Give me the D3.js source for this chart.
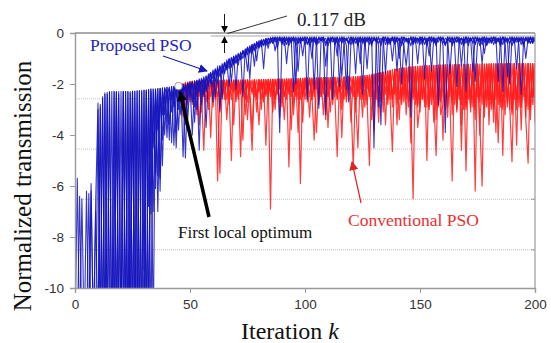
<!DOCTYPE html>
<html><head><meta charset="utf-8">
<script src="https://cdn.jsdelivr.net/npm/d3@7"></script>
<style>body{margin:0;background:#fff}</style>
</head><body><svg id="c" width="551" height="343"></svg>
<script>
// ---------- data ----------
const xTicks=[0,50,100,150,200];
const yTicks=[0,-2,-4,-6,-8,-10];
const gridVals=[-2.58,-4.55,-6.52,-8.5];
const blueStart=0, redStart=46;
// Proposed PSO particles (k = 0..200)
const blue1=[-12,-5.7,-12,-12,-12,-12,-6.3,-12,-12,-12,
-3.0,-12,-2.5,-12,-2.4,-9.5,-12,-2.3,-12,-2.4,
-12,-2.3,-11,-12,-2.35,-12,-2.3,-8.5,-12,-2.3,
-12,-2.3,-6.8,-2.3,-4.5,-2.25,-3.8,-2.2,-3.2,-2.2,
-3.5,-2.15,-2.6,-2.12,-3.9,-2.1,-2.5,-2.05,-2.3,-2.0,
-2.3,-1.95,-2.6,-1.9,-2.1,-1.82,-2.4,-1.7,-2.0,-1.6,
-1.8,-1.45,-1.7,-1.35,-1.55,-1.2,-1.45,-1.05,-1.3,-0.95,
-1.2,-0.85,-1.05,-0.72,-0.95,-0.6,-0.8,-0.48,-0.7,-0.38,
-0.6,-0.3,-0.5,-0.25,-0.45,-0.2,-0.4,-0.18,-0.35,-0.15,
-0.4,-0.15,-1.2,-0.2,-0.35,-0.15,-0.5,-0.2,-0.3,-0.15,
-0.45,-0.2,-0.3,-0.15,-2.2,-0.2,-0.4,-0.15,-0.3,-0.2,
-0.5,-0.15,-0.35,-0.2,-0.9,-0.15,-0.4,-0.2,-0.3,-0.15,
-0.45,-0.2,-1.6,-0.15,-0.35,-0.2,-0.5,-0.15,-0.3,-0.2,
-4.5,-0.15,-0.4,-0.2,-0.3,-0.15,-0.45,-0.2,-1.1,-0.15,
-0.35,-0.2,-0.5,-0.15,-0.3,-0.2,-3.3,-0.15,-0.4,-0.2,
-0.3,-0.15,-0.45,-0.2,-0.9,-0.15,-0.35,-0.2,-2.8,-0.15,
-0.4,-0.2,-0.3,-0.15,-0.5,-0.2,-0.35,-0.15,-1.3,-0.2,
-0.4,-0.15,-0.3,-0.2,-0.45,-0.15,-0.35,-0.2,-0.8,-0.15,
-0.4,-0.2,-0.3,-0.15,-1.9,-0.2,-0.45,-0.15,-0.3,-0.2,
-0.5,-0.15,-0.35,-0.2,-0.3,-0.15,-1.0,-0.2,-0.4,-0.15,
-0.3];
const blue2=[-12,-12,-6.4,-12,-12,-12,-12,-5.9,-12,-12,
-12,-2.8,-12,-2.35,-12,-2.3,-12,-7.5,-2.3,-12,
-2.3,-12,-2.3,-12,-9,-2.3,-12,-2.28,-12,-2.25,
-9.3,-2.25,-12,-2.2,-7.0,-2.2,-5.6,-2.18,-4.2,-2.15,
-2.4,-2.15,-4.3,-2.1,-2.5,-2.05,-3.2,-2.02,-4.9,-1.95,
-2.2,-1.9,-3.5,-1.85,-2.3,-1.78,-2.0,-3.7,-1.7,-1.55,
-2.1,-1.4,-1.65,-1.3,-2.6,-1.15,-1.4,-1.0,-1.35,-0.9,
-2.2,-0.8,-1.0,-0.7,-0.9,-0.55,-1.8,-0.45,-0.65,-0.35,
-0.55,-0.28,-1.4,-0.22,-0.4,-0.2,-0.3,-0.17,-0.6,-0.15,
-0.3,-0.2,-0.45,-0.15,-0.3,-0.2,-2.0,-0.15,-0.4,-0.2,
-0.3,-0.15,-0.5,-0.2,-0.35,-0.15,-2.95,-0.2,-0.4,-3.2,
-0.3,-0.2,-2.6,-0.15,-0.4,-0.2,-0.3,-0.15,-0.5,-2.7,
-0.3,-0.15,-0.4,-0.2,-1.2,-0.15,-0.35,-0.2,-0.45,-0.15,
-0.3,-0.2,-0.5,-3.6,-0.35,-0.15,-0.4,-0.2,-0.3,-0.15,
-1.5,-0.2,-0.4,-0.15,-0.35,-0.2,-0.5,-0.15,-0.3,-0.2,
-0.45,-0.15,-1.8,-0.2,-0.3,-0.15,-0.4,-0.2,-0.35,-0.15,
-0.5,-3.9,-0.3,-0.2,-0.4,-0.15,-0.35,-0.2,-0.45,-0.15,
-2.3,-0.2,-0.3,-0.15,-0.4,-0.2,-0.5,-0.15,-0.35,-0.2,
-0.3,-0.15,-0.45,-0.2,-0.35,-0.15,-2.3,-0.2,-0.4,-0.15,
-0.3,-0.2,-1.4,-0.15,-0.45,-0.2,-0.3,-0.15,-0.4,-0.2,
-0.35];
const blue3=[-12,-12,-12,-6.5,-12,-6.2,-12,-12,-12,-6.6,
-2.75,-12,-12,-2.4,-12,-12,-2.3,-12,-2.35,-12,
-12,-2.3,-12,-2.3,-12,-2.28,-12,-2.27,-10.5,-12,
-2.25,-12,-2.22,-7.1,-2.2,-6.1,-2.18,-5.7,-2.16,-4.0,
-2.13,-3.6,-2.1,-4.4,-2.08,-3.0,-2.04,-4.85,-2.0,-3.4,
-1.93,-2.7,-1.88,-3.0,-1.8,-2.4,-1.72,-2.3,-1.6,-2.0,
-1.45,-1.9,-1.3,-3.1,-1.2,-1.6,-1.05,-1.4,-0.95,-1.2,
-0.85,-1.25,-0.75,-2.5,-0.62,-0.85,-0.5,-0.7,-0.4,-1.1,
-0.3,-0.45,-0.25,-0.4,-0.2,-0.35,-0.15,-0.7,-0.2,-3.9,
-0.15,-0.35,-0.2,-0.5,-0.15,-0.3,-0.2,-0.4,-0.15,-0.9,
-0.2,-2.6,-0.15,-0.35,-0.2,-0.45,-0.15,-0.3,-0.2,-1.3,
-0.15,-0.4,-0.2,-0.3,-0.15,-0.5,-1.7,-0.35,-0.2,-0.4,
-0.15,-0.3,-0.2,-0.45,-0.15,-2.4,-0.2,-0.35,-0.15,-0.4,
-0.2,-0.3,-0.15,-0.5,-0.2,-1.6,-0.15,-0.35,-0.2,-0.45,
-0.15,-0.3,-2.0,-0.4,-0.2,-0.35,-0.15,-0.45,-0.2,-1.2,
-0.15,-0.35,-0.2,-0.4,-0.15,-0.3,-0.2,-0.5,-0.15,-0.3,
-0.2,-0.45,-0.15,-1.6,-0.2,-0.35,-0.15,-0.4,-0.2,-0.3,
-0.15,-0.5,-0.2,-0.35,-1.9,-0.4,-0.2,-0.3,-0.15,-0.45,
-0.2,-0.35,-0.15,-0.4,-0.2,-0.5,-0.15,-0.3,-0.2,-2.0,
-0.15,-0.4,-0.2,-0.35,-0.15,-0.45,-0.2,-0.3,-0.15,-0.4,
-0.2];
const blue4=[-12,-12,-12,-12,-12,-12,-12,-6.2,-12,-12,
-12,-12,-2.6,-12,-12,-2.32,-12,-12,-2.3,-11,
-12,-2.3,-12,-2.3,-12,-2.3,-8.8,-12,-2.26,-12,
-2.24,-12,-2.22,-12,-2.2,-5.5,-2.18,-6.2,-2.15,-3.2,
-2.13,-4.2,-2.1,-2.9,-2.08,-3.8,-2.05,-2.4,-2.02,-2.6,
-1.96,-4.0,-1.9,-2.4,-1.84,-2.8,-1.76,-2.2,-1.65,-1.9,
-1.5,-2.5,-1.38,-1.7,-1.25,-1.55,-1.12,-2.1,-1.0,-1.25,
-0.9,-1.1,-0.78,-1.0,-0.66,-1.5,-0.55,-0.8,-0.42,-0.6,
-0.33,-0.55,-0.27,-0.5,-0.22,-0.4,-0.18,-0.35,-0.15,-0.3,
-0.2,-0.5,-0.15,-0.35,-0.2,-2.3,-0.15,-0.4,-0.2,-0.3,
-0.15,-0.45,-0.2,-1.0,-0.15,-0.35,-0.2,-0.3,-0.15,-0.5,
-0.2,-0.35,-0.15,-0.4,-0.2,-2.1,-0.15,-0.3,-0.2,-0.45,
-0.15,-0.35,-0.2,-0.5,-0.15,-0.3,-0.2,-1.4,-0.15,-0.4,
-0.2,-0.35,-2.9,-0.3,-0.15,-0.45,-0.2,-0.35,-0.15,-0.4,
-0.2,-0.3,-0.15,-0.5,-1.3,-0.35,-0.2,-0.4,-0.15,-0.3,
-0.2,-0.45,-0.15,-0.35,-0.2,-1.5,-0.15,-0.4,-0.2,-0.3,
-0.15,-0.5,-0.2,-0.35,-0.15,-0.4,-2.1,-0.3,-0.2,-0.45,
-0.15,-0.35,-0.2,-0.4,-0.15,-0.3,-0.2,-1.2,-0.15,-0.5,
-0.2,-0.35,-0.15,-0.4,-0.2,-0.3,-0.15,-0.45,-1.7,-0.35,
-0.2,-0.4,-0.15,-0.3,-0.2,-0.5,-0.15,-0.35,-0.2,-0.4,
-0.15];
const blue5=[-12,-12,-12,-12,-12,-12,-12,-12,-12,-7.0,
-12,-2.9,-12,-12,-2.33,-12,-12,-2.3,-12,-2.3,
-12,-12,-2.3,-12,-2.3,-12,-2.28,-12,-2.27,-12,
-12,-2.24,-12,-2.2,-12,-2.2,-7.0,-2.17,-5.2,-2.15,
-4.1,-2.12,-3.1,-2.1,-4.5,-2.07,-2.7,-2.03,-3.6,-1.98,
-2.5,-1.92,-2.9,-1.87,-4.6,-1.8,-2.5,-1.68,-2.1,-1.55,
-2.7,-1.42,-2.0,-1.28,-1.6,-1.15,-1.35,-1.02,-1.9,-0.92,
-1.15,-0.82,-1.05,-0.68,-0.9,-0.56,-0.75,-0.45,-1.3,-0.34,
-0.5,-0.26,-0.45,-0.21,-0.6,-0.17,-0.4,-0.15,-0.3,-0.2,
-0.45,-0.15,-0.3,-0.2,-0.4,-0.15,-0.35,-1.5,-0.2,-0.3,
-0.15,-0.4,-0.2,-0.35,-0.15,-0.5,-0.2,-0.3,-0.15,-0.4,
-0.2,-0.3,-0.15,-0.45,-0.2,-0.35,-0.15,-0.4,-2.2,-0.3,
-0.2,-0.45,-0.15,-0.35,-0.2,-0.4,-0.15,-0.3,-0.2,-0.5,
-0.15,-0.35,-0.2,-0.4,-0.15,-0.3,-0.2,-0.45,-0.15,-0.35,
-0.2,-1.0,-0.15,-0.3,-0.2,-0.45,-0.15,-0.35,-0.2,-0.4,
-0.15,-0.3,-0.2,-0.5,-0.15,-0.35,-0.2,-0.4,-0.15,-0.3,
-0.2,-0.45,-0.15,-0.35,-0.2,-0.4,-0.15,-0.3,-0.2,-0.5,
-0.15,-0.35,-0.2,-1.5,-0.15,-0.3,-0.2,-0.45,-0.15,-0.35,
-0.2,-0.4,-0.15,-0.3,-0.2,-0.5,-0.15,-0.35,-0.2,-0.4,
-0.15,-0.3,-0.2,-0.45,-2.4,-0.35,-0.2,-0.4,-0.15,-0.3,
-0.2];
// Conventional PSO particles (k = 46..200)
const red1=[-2.0,-2.6,-1.95,-2.8,
-1.9,-2.5,-1.88,-3.2,-1.87,-2.4,-4.6,-1.87,-2.6,-1.86,
-2.9,-1.86,-5.8,-1.86,-2.5,-1.85,-3.4,-1.85,-2.6,-1.85,
-2.3,-1.85,-4.85,-1.85,-2.6,-1.84,-2.2,-3.8,-1.84,-2.5,
-1.84,-3.0,-1.83,-2.4,-1.83,-6.9,-1.82,-2.6,-1.82,-3.3,
-1.81,-2.5,-1.8,-5.25,-1.8,-2.3,-1.79,-2.6,-1.78,-3.5,
-1.77,-2.4,-1.77,-2.6,-1.76,-3.9,-1.76,-2.5,-1.75,-2.7,
-1.75,-3.1,-1.74,-2.5,-4.85,-1.73,-2.6,-1.73,-2.4,-1.72,
-3.5,-1.72,-2.6,-4.5,-1.7,-2.5,-1.68,-2.8,-1.66,-3.4,
-1.62,-2.6,-1.58,-2.7,-1.54,-3.6,-1.5,-2.6,-4.65,-1.43,
-2.8,-1.4,-2.5,-1.37,-3.2,-1.34,-2.7,-6.5,-1.32,-2.9,
-1.3,-2.6,-1.29,-5.0,-1.28,-2.8,-1.27,-3.4,-1.26,-2.7,
-1.25,-3.0,-1.25,-2.6,-5.8,-1.24,-2.9,-1.24,-3.6,-1.23,
-2.8,-1.23,-3.1,-1.23,-6.2,-1.22,-2.7,-1.22,-3.3,-1.22,
-2.9,-1.21,-3.5,-1.21,-2.8,-1.21,-4.8,-1.21,-2.9,-1.2,
-3.2,-1.2,-2.7,-1.2,-3.8,-1.2,-2.9,-1.2,-3.4,-1.2,
-2.8];
const red2=[-2.4,-1.98,-3.1,-1.93,
-2.7,-1.89,-2.4,-1.88,-3.6,-1.87,-2.2,-1.87,-3.0,-1.86,
-2.4,-1.86,-2.7,-5.5,-1.86,-2.6,-1.85,-2.3,-5.0,-1.85,
-2.7,-1.85,-2.4,-1.85,-3.2,-1.84,-2.6,-4.6,-1.84,-2.3,
-3.6,-1.83,-2.7,-1.83,-2.5,-1.82,-3.1,-1.82,-2.4,-1.81,
-2.9,-1.81,-2.6,-1.8,-3.8,-1.8,-2.5,-1.79,-5.9,-1.78,
-2.6,-1.77,-3.3,-1.77,-2.5,-1.76,-2.8,-1.76,-2.4,-1.75,
-3.7,-1.75,-2.6,-1.74,-2.3,-1.74,-3.0,-1.73,-2.5,-1.72,
-2.7,-5.3,-1.72,-2.5,-1.7,-3.3,-1.68,-2.6,-5.2,-1.64,
-2.9,-1.6,-3.5,-1.56,-2.6,-1.52,-2.8,-1.47,-2.5,-1.44,
-1.42,-3.4,-1.39,-2.7,-1.36,-2.9,-1.33,-2.6,-1.32,-3.7,
-2.8,-1.3,-2.7,-1.29,-3.0,-1.28,-2.6,-4.8,-1.27,-3.2,
-2.8,-1.25,-3.3,-1.25,-2.7,-1.24,-3.1,-1.24,-2.8,-1.23,
-5.4,-1.23,-2.9,-1.23,-2.7,-1.22,-3.5,-6.0,-1.22,-2.9,
-1.21,-2.8,-1.21,-3.9,-1.21,-2.7,-1.21,-3.2,-1.2,-2.8,
-5.05,-1.2,-3.0,-1.2,-2.6,-1.2,-3.4,-5.1,-1.2,-2.8,
-1.2];
const red3=[-2.02,-3.3,-1.96,-2.3,
-1.91,-2.8,-1.89,-2.5,-1.88,-3.1,-1.87,-2.7,-1.87,-4.1,
-1.86,-2.6,-1.86,-3.0,-1.86,-2.4,-1.85,-2.8,-1.85,-3.6,
-1.85,-2.5,-1.85,-4.2,-1.84,-2.7,-1.84,-2.4,-1.84,-3.1,
-1.83,-2.6,-1.83,-4.4,-1.82,-2.5,-1.82,-3.0,-1.81,-2.7,
-1.81,-3.4,-1.8,-2.4,-1.8,-2.8,-1.79,-3.9,-1.78,-2.5,
-1.77,-2.7,-1.77,-2.4,-4.2,-1.76,-2.6,-1.76,-3.2,-1.75,
-2.5,-1.75,-2.8,-1.74,-2.6,-1.74,-4.1,-1.73,-2.7,-1.72,
-2.4,-1.72,-3.1,-1.71,-2.6,-1.69,-2.9,-1.67,-2.5,-1.65,
-3.8,-1.61,-2.7,-1.57,-3.1,-1.53,-2.6,-1.48,-2.9,-1.44,
-3.6,-1.41,-2.8,-1.38,-2.6,-1.35,-4.3,-1.33,-2.8,-1.31,
-3.1,-1.3,-2.9,-1.29,-2.7,-1.28,-3.5,-1.27,-2.9,-1.26,
-4.2,-1.25,-2.8,-1.25,-3.2,-1.24,-2.7,-1.24,-4.6,-1.23,
-3.0,-1.23,-2.8,-1.23,-3.4,-1.22,-4.0,-1.22,-2.8,-1.22,
-3.6,-1.21,-2.9,-1.21,-4.3,-1.21,-3.0,-1.21,-2.7,-1.2,
-3.1,-1.2,-4.4,-1.2,-2.9,-1.2,-3.3,-1.2,-2.8,-1.2,
-3.5];
const red4=[-2.3,-2.0,-2.6,-1.94,
-2.4,-1.9,-2.2,-1.88,-2.5,-1.87,-2.3,-1.87,-2.6,-1.86,
-2.2,-1.86,-2.5,-1.86,-2.3,-1.85,-2.6,-1.85,-2.2,-1.85,
-2.5,-1.85,-2.3,-1.85,-2.6,-1.84,-2.2,-1.84,-2.5,-1.84,
-2.3,-1.83,-2.6,-1.83,-2.2,-1.82,-2.5,-1.82,-2.3,-1.81,
-2.6,-1.81,-2.2,-1.8,-2.5,-1.8,-2.3,-1.79,-2.6,-1.78,
-2.2,-1.77,-2.5,-1.77,-2.3,-1.76,-2.6,-1.76,-2.2,-1.75,
-2.5,-1.75,-2.3,-1.74,-2.6,-1.74,-2.2,-1.73,-2.5,-1.72,
-2.3,-1.72,-2.6,-1.7,-2.2,-1.68,-2.5,-1.66,-2.3,-1.63,
-2.6,-1.59,-2.3,-1.55,-2.5,-1.51,-2.4,-1.46,-2.6,-1.42,
-2.4,-1.4,-2.7,-1.37,-2.5,-1.34,-2.8,-1.32,-2.5,-1.31,
-2.8,-1.3,-2.5,-1.29,-2.9,-1.28,-2.6,-1.27,-2.8,-1.26,
-2.5,-1.25,-2.9,-1.25,-2.6,-1.24,-3.0,-1.24,-2.6,-1.23,
-2.9,-1.23,-2.6,-1.23,-3.0,-1.22,-2.5,-1.22,-2.9,-1.22,
-2.6,-1.21,-3.0,-1.21,-2.5,-1.21,-2.9,-1.21,-2.6,-1.2,
-3.0,-1.2,-2.6,-1.2,-2.9,-1.2,-2.5,-1.2,-3.0,-1.2,
-2.6];
const red5=[-1.99,-2.5,-1.95,-2.2,
-1.92,-2.6,-1.89,-2.1,-1.88,-2.7,-1.87,-2.3,-1.87,-2.5,
-1.86,-2.3,-1.86,-2.6,-1.86,-2.2,-1.85,-2.5,-1.85,-2.3,
-1.85,-2.6,-1.85,-2.2,-1.84,-3.4,-1.84,-2.3,-1.84,-2.6,
-1.83,-2.2,-1.83,-2.5,-1.82,-2.3,-1.82,-2.6,-1.81,-2.2,
-1.81,-2.5,-1.8,-2.3,-1.8,-3.2,-1.79,-2.2,-1.78,-2.5,
-1.77,-2.3,-1.77,-2.6,-1.76,-2.2,-1.76,-2.5,-1.75,-3.4,
-1.75,-2.2,-1.74,-2.5,-1.74,-2.3,-1.73,-2.6,-1.72,-2.2,
-1.72,-2.5,-1.71,-2.3,-1.69,-2.6,-1.67,-2.2,-1.64,-2.5,
-1.6,-2.3,-1.56,-2.6,-1.52,-2.4,-1.47,-2.6,-1.43,-2.4,
-1.41,-2.6,-1.38,-2.4,-1.35,-2.7,-1.33,-2.5,-1.31,-2.8,
-1.3,-2.6,-1.29,-2.9,-1.28,-2.5,-1.27,-2.8,-1.26,-2.6,
-1.25,-2.9,-1.25,-2.5,-1.24,-2.8,-1.24,-2.6,-1.23,-3.0,
-1.23,-2.6,-1.23,-2.9,-1.22,-2.5,-1.22,-2.8,-1.22,-2.6,
-1.21,-3.0,-1.21,-2.6,-1.21,-2.9,-1.21,-2.5,-1.2,-3.0,
-1.2,-2.6,-1.2,-2.9,-1.2,-2.5,-1.2,-3.0,-1.2,-2.6,
-1.2];
const blueSeries=[blue1,blue2,blue3,blue4,blue5];
const redSeries=[red1,red2,red3,red4,red5];
const markerLevel=-0.117, markerFromK=59, markerK=65;
const optimum={k:45,v:-2.08};

// ---------- chart ----------
const x=d3.scaleLinear().domain([0,200]).range([75,535]);
const y=d3.scaleLinear().domain([-10,0]).range([288,33]);
const svg=d3.select('#c');
const defs=svg.append('defs');
defs.append('clipPath').attr('id','plot').append('rect')
  .attr('x',x(0)).attr('y',y(0)).attr('width',x(200)-x(0)).attr('height',y(-10)-y(0));
function mk(id,color,size){
  defs.append('marker').attr('id',id).attr('viewBox','0 0 10 10').attr('refX',9).attr('refY',5)
    .attr('markerWidth',size).attr('markerHeight',size).attr('orient','auto').attr('markerUnits','userSpaceOnUse')
    .append('path').attr('d','M0,0L10,5L0,10z').attr('fill',color);
}
mk('aBlack','#000',7);mk('aBlue','#1a1ab8',9);mk('aRed','#e82020',9);mk('aBig','#000',10);

// gridlines
svg.append('g').selectAll('line').data(gridVals).join('line')
  .attr('x1',x(0)).attr('x2',x(200)).attr('y1',d=>y(d)).attr('y2',d=>y(d))
  .attr('stroke','#b0b0b0').attr('stroke-width',0.8).attr('stroke-dasharray','1,1');

const plot=svg.append('g').attr('clip-path','url(#plot)');
const line=(start)=>d3.line().x((d,i)=>x(start+i)).y(d=>y(d));
plot.selectAll('path.r').data(redSeries).join('path').attr('class','r')
  .attr('d',line(redStart)).attr('fill','none').attr('stroke','#ff1c1c')
  .attr('stroke-width',1.2).attr('stroke-opacity',0.85).attr('stroke-linejoin','round');
plot.selectAll('path.b').data(blueSeries).join('path').attr('class','b')
  .attr('d',line(blueStart)).attr('fill','none').attr('stroke','#1414bc')
  .attr('stroke-width',1.1).attr('stroke-opacity',0.85).attr('stroke-linejoin','round');

// frame
const gray='#9a9a9a';
svg.append('line').attr('x1',x(0)).attr('x2',x(200)).attr('y1',y(0)).attr('y2',y(0))
  .attr('stroke','#aaa').attr('stroke-width',2);
svg.append('line').attr('x1',x(200)).attr('x2',x(200)).attr('y1',y(0)).attr('y2',y(-10))
  .attr('stroke',gray).attr('stroke-width',1.2);
svg.append('g').selectAll('line').data(gridVals).join('line')
  .attr('x1',x(200)-4).attr('x2',x(200)).attr('y1',d=>y(d)).attr('y2',d=>y(d))
  .attr('stroke',gray);

const fmt=d=>String(d);
const ax=svg.append('g').attr('transform',`translate(0,${y(-10)})`)
  .call(d3.axisBottom(x).tickValues(xTicks).tickSize(5).tickPadding(6).tickFormat(fmt));
const ay=svg.append('g').attr('transform',`translate(${x(0)},0)`)
  .call(d3.axisLeft(y).tickValues(yTicks).tickSize(5).tickPadding(6).tickFormat(fmt));
[ax,ay].forEach(g=>{
  g.select('.domain').attr('stroke',gray).attr('stroke-width',1.4);
  g.selectAll('.tick line').attr('stroke',gray);
  g.selectAll('.tick text').attr('font-family','Liberation Sans, Arial, sans-serif')
    .attr('font-size',13.5).attr('fill','#333');
});

// 0.117 dB marker
svg.append('line').attr('x1',x(markerFromK)).attr('x2',x(200))
  .attr('y1',y(markerLevel)).attr('y2',y(markerLevel)).attr('stroke','#aaa').attr('stroke-width',1.2);
svg.append('line').attr('x1',x(markerK)).attr('x2',x(markerK)).attr('y1',14).attr('y2',y(0)-1)
  .attr('stroke','#000').attr('stroke-width',0.9).attr('marker-end','url(#aBlack)');
svg.append('line').attr('x1',x(markerK)).attr('x2',x(markerK)).attr('y1',53).attr('y2',y(markerLevel)+1)
  .attr('stroke','#000').attr('stroke-width',0.9).attr('marker-end','url(#aBlack)');
svg.append('line').attr('x1',x(markerK)+3).attr('x2',287).attr('y1',y(0)+0.5).attr('y2',16)
  .attr('stroke','#000').attr('stroke-width',0.8);
svg.append('text').attr('x',297).attr('y',26).text('0.117 dB')
  .attr('font-family','Liberation Serif, Times New Roman, serif').attr('font-size',19).attr('fill','#222');

// labels & arrows
const serif='Liberation Serif, Times New Roman, serif';
svg.append('text').attr('x',90).attr('y',51).text('Proposed PSO')
  .attr('font-family',serif).attr('font-size',17.5).attr('fill','#2626b4');
svg.append('line').attr('x1',163).attr('y1',56).attr('x2',207).attr('y2',71)
  .attr('stroke','#1a1ab8').attr('stroke-width',1.2).attr('marker-end','url(#aBlue)');

svg.append('line').attr('x1',209).attr('y1',217).attr('x2',x(optimum.k)+1.5).attr('y2',y(optimum.v)+6)
  .attr('stroke','#000').attr('stroke-width',3.5).attr('marker-end','url(#aBig)');
svg.append('circle').attr('cx',x(optimum.k)).attr('cy',y(optimum.v)).attr('r',3.8)
  .attr('fill','#fff').attr('stroke','#888').attr('stroke-width',0.8);
svg.append('text').attr('x',178).attr('y',238).text('First local optimum')
  .attr('font-family',serif).attr('font-size',17).attr('fill','#111');

svg.append('line').attr('x1',361).attr('y1',203).attr('x2',352).attr('y2',162)
  .attr('stroke','#e82020').attr('stroke-width',1.2).attr('marker-end','url(#aRed)');
svg.append('text').attr('x',348).attr('y',226).text('Conventional PSO')
  .attr('font-family',serif).attr('font-size',17.5).attr('fill','#e83030');

// axis titles
const xt=svg.append('text').attr('x',290).attr('y',339).attr('text-anchor','middle')
  .attr('font-family',serif).attr('font-size',24).attr('fill','#111');
xt.append('tspan').text('Iteration ');
xt.append('tspan').attr('font-style','italic').text('k');
svg.append('text').attr('transform','translate(31,186) rotate(-90)').attr('text-anchor','middle')
  .attr('font-family',serif).attr('font-size',25).attr('fill','#111').text('Normalized transmission');
</script></body></html>
